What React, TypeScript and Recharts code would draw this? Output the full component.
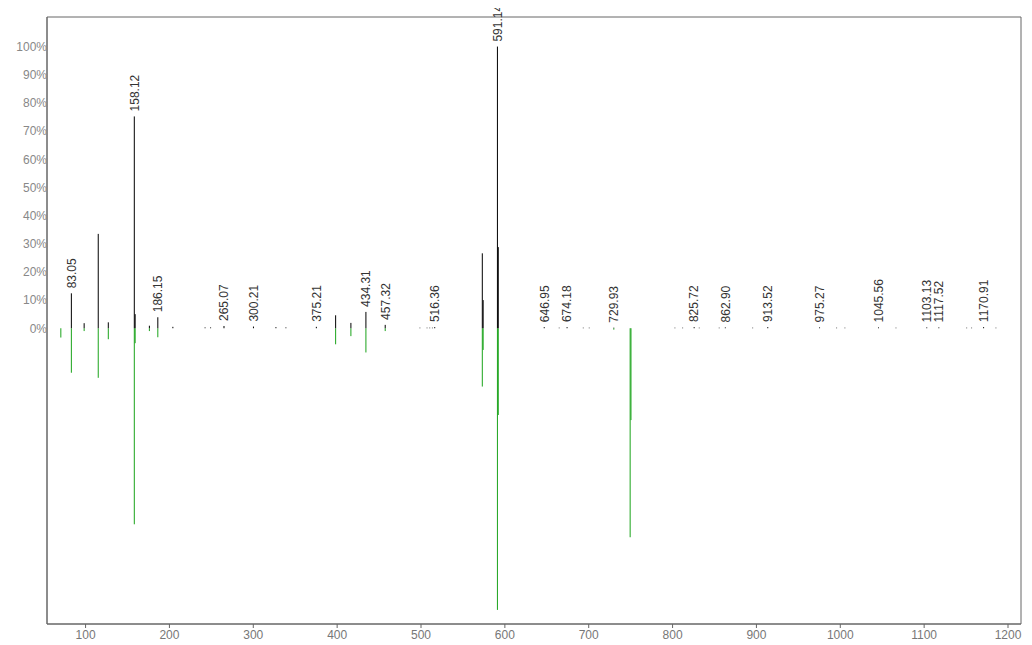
import { ComposedChart, ErrorBar, ReferenceArea, Scatter, XAxis, YAxis } from "recharts";

// Sample spectrum (drawn upward): m/z and relative intensity in %
const sampleMz = [
    83.05, 98.3, 115.1, 127.1, 158.12, 159.12, 176.1, 186.15, 204.1, 242.5,
    249.1, 265.07, 300.21, 327.0, 338.9, 375.21, 398.2, 416.4, 434.31, 457.32,
    498.7, 507.2, 510.4, 513.6, 516.36, 573.1, 574.1, 591.14, 592.14, 646.95,
    664.8, 674.18, 693.5, 700.6, 729.93, 802.8, 812.0, 825.72, 831.8, 855.6,
    862.9, 895.5, 913.52, 975.27, 995.6, 1005.5, 1045.56, 1066.4, 1103.13, 1117.52,
    1150.7, 1156.6, 1170.91, 1185.6,
];
const sampleIntensity = [
    12.4, 1.8, 33.5, 2.1, 75.2, 5.0, 0.9, 3.9, 0.5, 0.3,
    0.3, 0.8, 0.6, 0.4, 0.3, 0.5, 4.6, 1.9, 5.8, 1.2,
    0.2, 0.2, 0.2, 0.2, 0.4, 26.6, 10.0, 100, 28.8, 0.4,
    0.2, 0.4, 0.2, 0.2, 0.2, 0.2, 0.2, 0.4, 0.2, 0.2,
    0.3, 0.2, 0.4, 0.3, 0.2, 0.2, 0.3, 0.2, 0.3, 0.3,
    0.2, 0.2, 0.4, 0.2,
];

// peaks annotated with their m/z
const labelledMz = [
    83.05, 158.12, 186.15, 265.07, 300.21, 375.21, 434.31, 457.32, 516.36, 591.14,
    646.95, 674.18, 729.93, 825.72, 862.9, 913.52, 975.27, 1045.56, 1103.13, 1117.52,
    1170.91,
];

// Library spectrum (drawn downward)
const libraryMz = [
    70.5, 83.05, 98.3, 115.1, 127.1, 158.12, 159.12, 176.1, 186.15, 398.2,
    416.4, 434.31, 457.32, 573.1, 574.1, 591.14, 592.14, 729.93, 749.4, 750.4,
];
const libraryIntensity = [
    3.3, 15.8, 1.0, 17.6, 3.9, 69.6, 5.3, 1.0, 3.2, 5.7,
    2.8, 8.6, 1.0, 20.7, 7.7, 100, 30.8, 0.5, 74.2, 32.6,
];

const X_TICKS = [100, 200, 300, 400, 500, 600, 700, 800, 900, 1000, 1100, 1200];
const Y_TICKS = [0, 10, 20, 30, 40, 50, 60, 70, 80, 90, 100];
const X_DOMAIN: [number, number] = [54, 1215.5];
const Y_DOMAIN: [number, number] = [-105, 110.5];

type Peak = { mz: number; y: number; err: [number, number]; labelled: boolean };

// each stick runs from 0 to the peak via an asymmetric error bar
const samplePeaks: Peak[] = sampleMz.map((mz, i) => ({
    mz,
    y: sampleIntensity[i],
    err: [sampleIntensity[i], 0],
    labelled: labelledMz.includes(mz),
}));

const libraryPeaks: Peak[] = libraryMz.map((mz, i) => ({
    mz,
    y: -libraryIntensity[i],
    err: [0, libraryIntensity[i]],
    labelled: false,
}));

function PeakLabel(props: any) {
    const { cx, cy, payload } = props;
    if (!payload || !payload.labelled) return <g />;
    const y = cy - 5;
    return (
        <text
            x={cx}
            y={y}
            dy="0.36em"
            transform={`rotate(-90 ${cx} ${y})`}
            textAnchor="start"
            fontSize={12}
            fill="#333"
        >
            {payload.mz.toFixed(2)}
        </text>
    );
}

export default function App() {
    // pull the chart over the body margin so labels near the top edge stay visible
    return (
        <div style={{ width: 1032, height: 645, margin: "-8px 0 0 -8px", fontFamily: '"Liberation Sans", Arial, sans-serif' }}>
            <ComposedChart width={1032} height={645} margin={{ top: 17, right: 11, bottom: 0, left: 0 }}>
                <XAxis
                    xAxisId="mz"
                    type="number"
                    dataKey="mz"
                    domain={X_DOMAIN}
                    ticks={X_TICKS}
                    interval={0}
                    height={21}
                    stroke="#666"
                    tickSize={4}
                    tickMargin={2}
                    tick={{ fill: "#777", fontSize: 12 }}
                />
                <YAxis
                    yAxisId="pct"
                    type="number"
                    dataKey="y"
                    domain={Y_DOMAIN}
                    ticks={Y_TICKS}
                    interval={0}
                    width={47}
                    tickLine={false}
                    tickSize={0}
                    tickMargin={0}
                    tickFormatter={(v) => `${v}%`}
                    stroke="#666"
                    tick={{ fill: "#888", fontSize: 12 }}
                />
                {/* plot frame */}
                <ReferenceArea
                    xAxisId="mz"
                    yAxisId="pct"
                    x1={X_DOMAIN[0]}
                    x2={X_DOMAIN[1]}
                    y1={Y_DOMAIN[0]}
                    y2={Y_DOMAIN[1]}
                    fill="none"
                    fillOpacity={0}
                    stroke="#666"
                    strokeWidth={1}
                />
                <Scatter
                    name="library"
                    data={libraryPeaks}
                    xAxisId="mz"
                    yAxisId="pct"
                    shape={PeakLabel}
                    isAnimationActive={false}
                >
                    <ErrorBar dataKey="err" direction="y" width={0} stroke="#1aa31a" strokeWidth={1} isAnimationActive={false} />
                </Scatter>
                <Scatter
                    name="sample"
                    data={samplePeaks}
                    xAxisId="mz"
                    yAxisId="pct"
                    shape={PeakLabel}
                    isAnimationActive={false}
                >
                    <ErrorBar dataKey="err" direction="y" width={0} stroke="#000" strokeWidth={1} isAnimationActive={false} />
                </Scatter>
            </ComposedChart>
        </div>
    );
}
